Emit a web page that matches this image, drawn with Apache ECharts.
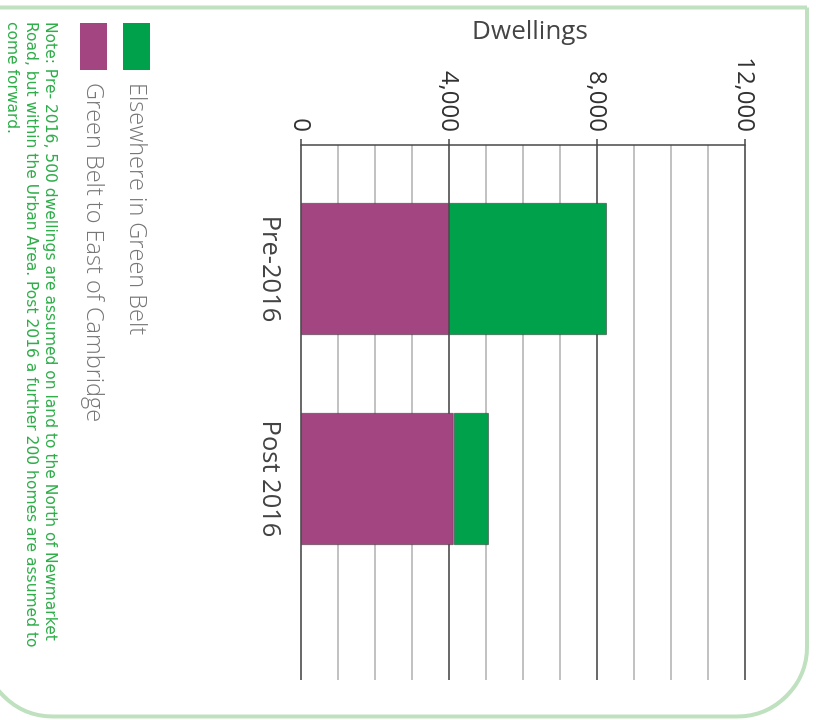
<!DOCTYPE html>
<html>
<head>
<meta charset="utf-8">
<script src="https://cdn.jsdelivr.net/npm/echarts@6/dist/echarts.min.js"></script>
<style>
  html, body { margin: 0; padding: 0; background: #ffffff; overflow: hidden; width: 816px; height: 720px; }
  #chart { position: absolute; left: 0; top: 0; width: 720px; height: 816px;
           transform-origin: 0 0; transform: translate(816px, 0) rotate(90deg); }
</style>
</head>
<body>
<div id="chart"></div>
<script>
// ---- data ----
const categories = ['Pre-2016', 'Post 2016'];
const seriesNames = ['Green Belt to East of Cambridge', 'Elsewhere in Green Belt'];
const greenBeltEast = [4000, 4130];
const elsewhereGreenBelt = [4270, 950];
const axisMin = 0;
const axisMax = 12000;
const axisStep = 4000;
const axisTitle = 'Dwellings';
const noteText = 'Note: Pre- 2016, 500 dwellings are assumed on land to the North of Newmarket\nRoad, but within the Urban Area. Post 2016 a further 200 homes are assumed to\ncome forward.';

const PURPLE = '#a24580';
const GREEN = '#00a14b';

const chart = echarts.init(document.getElementById('chart'), null, { renderer: 'canvas' });

const option = {
  backgroundColor: '#ffffff',
  animation: false,
  title: {
    text: noteText,
    left: 22,
    top: 756,
    padding: 0,
    textStyle: { fontFamily: 'DejaVu Sans', fontSize: 15.5, fontWeight: 'normal', color: '#2fae4a', lineHeight: 19 }
  },
  legend: {
    data: [seriesNames[1], seriesNames[0]],
    orient: 'vertical',
    left: 18,
    top: 661,
    itemWidth: 47,
    itemHeight: 27,
    itemGap: 16,
    icon: 'rect',
    itemStyle: { borderWidth: 0 },
    textStyle: { fontFamily: 'Open Sans', fontSize: 23.5, fontWeight: 300, color: '#777777', padding: [0, 0, 0, 8] }
  },
  grid: [
    { left: 164, right: 136, top: 71, bottom: 301 },
    { left: 145, right: 40, top: 71, bottom: 301 }
  ],
  xAxis: [
    {
      gridIndex: 0, type: 'category', data: categories,
      axisLine: { show: false }, axisTick: { show: false },
      axisLabel: { margin: 18, fontFamily: 'Open Sans', fontSize: 25.5, color: '#444444' }
    },
    { gridIndex: 1, type: 'value', min: 0, max: 1, show: false }
  ],
  yAxis: [
    { gridIndex: 0, type: 'value', min: axisMin, max: axisMax, interval: axisStep, show: false },
    {
      gridIndex: 1, type: 'value', min: axisMin, max: axisMax, interval: axisStep,
      name: axisTitle, nameLocation: 'middle', nameRotate: 90, nameGap: 100,
      nameTextStyle: { fontFamily: 'Open Sans', fontSize: 26, color: '#444444', padding: [0, 0, 0, 14] },
      axisLine: { show: true, lineStyle: { color: '#444444', width: 1.5 } },
      axisTick: { show: true, length: 6, lineStyle: { color: '#444444', width: 1.5 } },
      axisLabel: { margin: 13, fontFamily: 'Open Sans', fontSize: 24, color: '#333333',
                   formatter: v => v.toLocaleString('en-US') },
      splitLine: { show: true, showMinLine: true, showMaxLine: true, lineStyle: { color: '#3a3a3a', width: 1.6 } },
      minorTick: { show: false, splitNumber: 4 },
      minorSplitLine: { show: true, lineStyle: { color: '#c2c2c2', width: 1.8 } }
    }
  ],
  graphic: [
    {
      type: 'rect', silent: true, z: 100,
      shape: { x: 7.5, y: 9, width: 709, height: 824, r: [0, 70, 70, 0] },
      style: { fill: null, stroke: '#bfe1bf', lineWidth: 4 }
    }
  ],
  series: [
    {
      name: seriesNames[0], type: 'bar', stack: 'total', xAxisIndex: 0, yAxisIndex: 0,
      data: greenBeltEast, barWidth: '63%', z: 5,
      itemStyle: { color: PURPLE, borderColor: 'rgba(60,60,60,0.55)', borderWidth: 1 }
    },
    {
      name: seriesNames[1], type: 'bar', stack: 'total', xAxisIndex: 0, yAxisIndex: 0,
      data: elsewhereGreenBelt, barWidth: '63%', z: 5,
      itemStyle: { color: GREEN, borderColor: 'rgba(60,60,60,0.55)', borderWidth: 1 }
    }
  ]
};

chart.setOption(option);
</script>
</body>
</html>
